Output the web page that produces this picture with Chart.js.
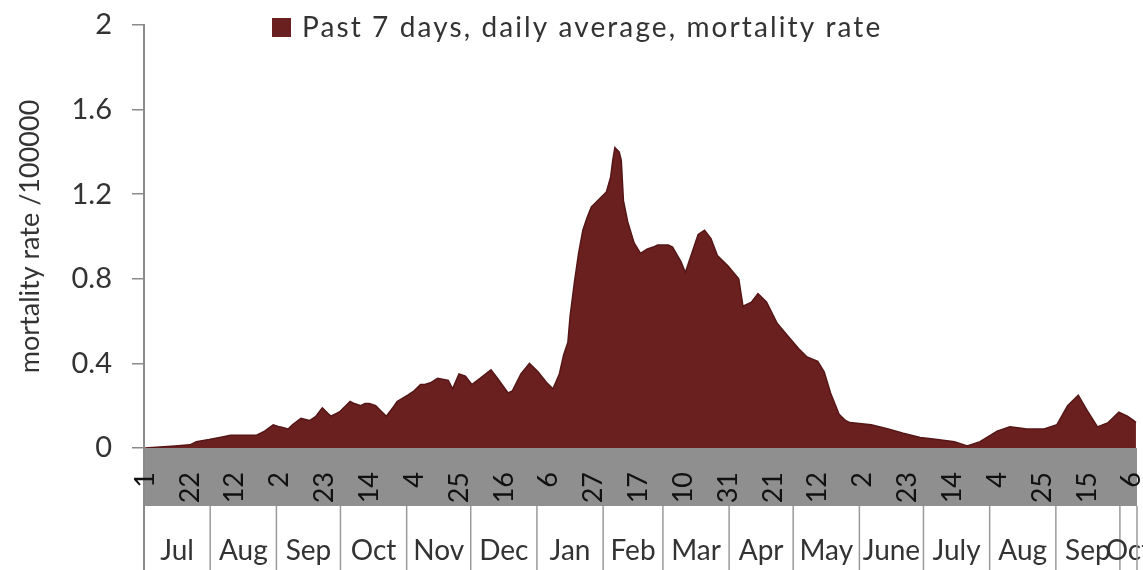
<!DOCTYPE html>
<html><head><meta charset="utf-8">
<script src="https://cdn.jsdelivr.net/npm/chart.js@4/dist/chart.umd.min.js"></script>
<style>html,body{margin:0;padding:0;background:#fff}#wrap{width:1143px;height:570px;position:relative}</style>
</head><body><div id="wrap"><canvas id="c" width="1143" height="570"></canvas></div>
<script>
// Day index 0 = 1 Jul 2020
const days = [0,7,14,21,24,30,35,40,47,52,56,60,63,67,69,73,77,80,83,87,91,94,96,98,101,103,105,108,110,113,116,118,123,126,129,131,134,137,142,144,147,150,153,157,162,165,170,172,176,180,184,188,191,194,196,198,199,201,203,205,207,209,212,216,218,219,220,222,223,224,226,229,232,235,238,240,243,245,247,251,253,255,259,262,265,268,273,278,280,284,287,291,296,301,306,310,315,318,321,325,328,330,340,348,355,363,371,379,385,391,399,405,413,421,427,432,437,441,446,451,456,460,463,464];
const rates = [0.00,0.005,0.01,0.015,0.03,0.04,0.05,0.06,0.06,0.06,0.08,0.11,0.10,0.09,0.11,0.14,0.13,0.15,0.19,0.15,0.17,0.20,0.22,0.21,0.20,0.21,0.21,0.20,0.18,0.15,0.19,0.22,0.25,0.27,0.30,0.30,0.31,0.33,0.32,0.28,0.35,0.34,0.30,0.33,0.37,0.33,0.26,0.27,0.35,0.40,0.36,0.31,0.28,0.35,0.44,0.50,0.62,0.78,0.92,1.03,1.09,1.14,1.17,1.21,1.28,1.36,1.42,1.40,1.36,1.17,1.07,0.97,0.92,0.94,0.95,0.96,0.96,0.96,0.95,0.88,0.83,0.89,1.01,1.03,0.99,0.91,0.86,0.80,0.67,0.69,0.73,0.69,0.59,0.53,0.47,0.43,0.41,0.36,0.26,0.16,0.13,0.12,0.11,0.09,0.07,0.05,0.04,0.03,0.01,0.03,0.08,0.10,0.09,0.09,0.11,0.20,0.25,0.18,0.10,0.12,0.17,0.15,0.13,0.12];
const tickDays = [0,21,42,63,84,105,126,147,168,189,210,231,252,273,294,315,336,357,378,399,420,441,462];
const tickLabels = ['1','22','12','2','23','14','4','25','16','6','27','17','10','31','21','12','2','23','14','4','25','15','6'];
const monthNames = ['Jul','Aug','Sep','Oct','Nov','Dec','Jan','Feb','Mar','Apr','May','June','July','Aug','Sep','Oct'];
const monthStarts = [0,31,62,92,123,153,184,215,243,274,304,335,365,396,427,457];
const axisEndDay = 465;
const yTickValues = [0,0.4,0.8,1.2,1.6,2];
const yTickLabels = ['0','0.4','0.8','1.2','1.6','2'];
const seriesLabel = 'Past 7 days, daily average, mortality rate';
const yTitle = 'mortality rate /100000';

const FILL = '#6b2020';
const FONT = 'Lato, "Open Sans", sans-serif';

const bandPlugin = {
  id: 'bands',
  beforeDraw(chart) {
    const ctx = chart.ctx, xs = chart.scales.x, ca = chart.chartArea;
    const bandBottom = ca.bottom + 58, H = chart.height;
    ctx.save();
    ctx.fillStyle = '#8f8f8f';
    ctx.fillRect(ca.left, ca.bottom, ca.right - ca.left, bandBottom - ca.bottom);
    ctx.strokeStyle = '#9a9a9a';
    ctx.lineWidth = 1.5;
    ctx.fillStyle = '#333';
    ctx.font = '28px ' + FONT;
    ctx.textAlign = 'center';
    ctx.textBaseline = 'alphabetic';
    for (let i = 0; i < monthStarts.length; i++) {
      const xL = xs.getPixelForValue(monthStarts[i] - 0.5);
      const xR = xs.getPixelForValue((i + 1 < monthStarts.length ? monthStarts[i + 1] : axisEndDay) - 0.5);
      ctx.beginPath(); ctx.moveTo(xL, bandBottom); ctx.lineTo(xL, H); ctx.stroke();
      ctx.fillText(monthNames[i], (xL + xR) / 2, 560);
      if (i === monthStarts.length - 1) { ctx.beginPath(); ctx.moveTo(xR, bandBottom); ctx.lineTo(xR, H); ctx.stroke(); }
    }
    ctx.strokeStyle = '#8a8a8a'; ctx.lineWidth = 2;
    ctx.beginPath(); ctx.moveTo(ca.left, ca.bottom); ctx.lineTo(ca.left, H); ctx.stroke();
    ctx.restore();
  },
  afterDraw(chart) {
    const ctx = chart.ctx;
    ctx.save();
    ctx.fillStyle = FILL;
    ctx.fillRect(272, 18, 19, 19);
    ctx.fillStyle = '#333';
    ctx.font = '28px ' + FONT;
    if ('letterSpacing' in ctx) ctx.letterSpacing = '2.1px';
    ctx.textBaseline = 'alphabetic';
    ctx.textAlign = 'left';
    ctx.fillText(seriesLabel, 302, 37);
    ctx.restore();
  }
};

function build() {
  new Chart(document.getElementById('c'), {
    type: 'line',
    data: {
      datasets: [{
        label: seriesLabel,
        data: days.map((d, i) => ({ x: d, y: rates[i] })),
        fill: 'origin',
        backgroundColor: FILL,
        borderColor: '#561616',
        borderWidth: 1.5,
        pointRadius: 0,
        tension: 0
      }]
    },
    options: {
      responsive: false,
      animation: false,
      layout: { padding: { left: 0, right: 6, top: 25, bottom: 0 } },
      plugins: { legend: { display: false }, tooltip: { enabled: false } },
      scales: {
        x: {
          type: 'linear', min: -0.5, max: axisEndDay - 0.5,
          afterBuildTicks(s) { s.ticks = tickDays.map(v => ({ value: v })); },
          afterFit(s) { s.height = 122; s.paddingLeft = 0; s.paddingRight = 0; },
          grid: { display: false, drawTicks: false },
          border: { display: false },
          ticks: {
            autoSkip: false, maxRotation: 90, minRotation: 90, padding: 24,
            color: '#111', font: { family: FONT, size: 27 },
            callback: (v, i) => tickLabels[i]
          }
        },
        y: {
          min: 0, max: 2,
          afterBuildTicks(s) { s.ticks = yTickValues.map(v => ({ value: v })); },
          afterFit(s) { s.width = 144; s.paddingTop = 0; s.paddingBottom = 0; },
          grid: { drawOnChartArea: false, tickLength: 12, color: '#8a8a8a', lineWidth: 1.5 },
          border: { display: true, color: '#8a8a8a', width: 2 },
          ticks: {
            padding: 20, color: '#333', font: { family: FONT, size: 29 },
            callback: (v, i) => yTickLabels[i]
          },
          title: { display: true, text: yTitle, color: '#333', font: { family: FONT, size: 27 }, padding: { top: 14, bottom: 0 } }
        }
      }
    },
    plugins: [bandPlugin]
  });
}
(document.fonts && document.fonts.load ? Promise.all([document.fonts.load('27px Lato')]).catch(()=>{}) : Promise.resolve()).then(build);
</script>
</body></html>
